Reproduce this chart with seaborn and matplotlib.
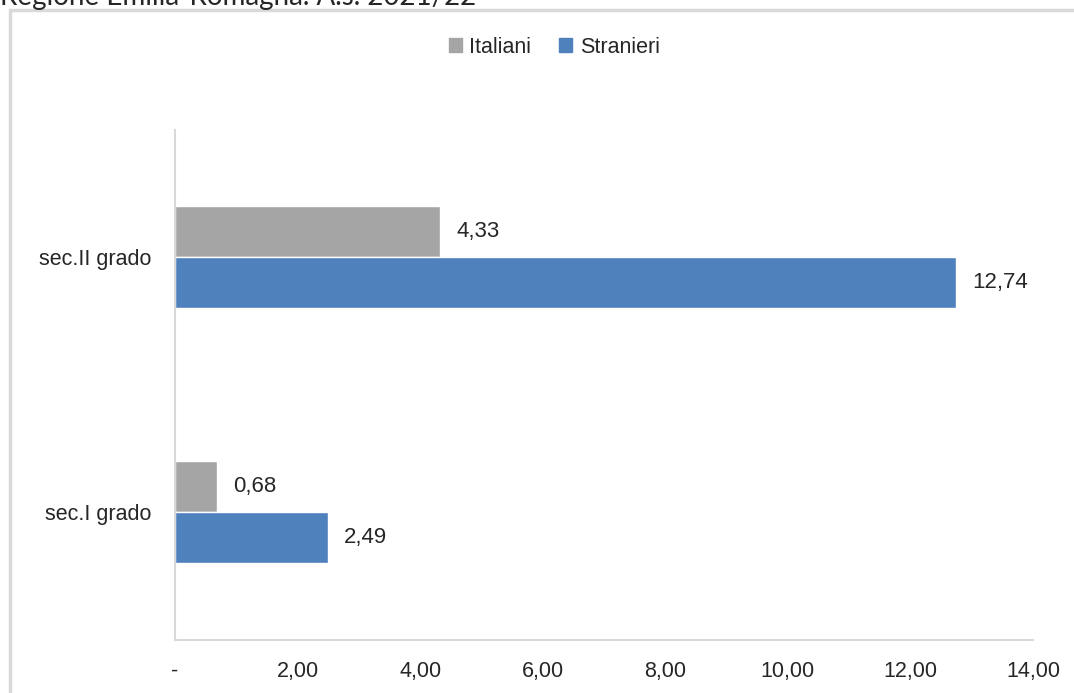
import pandas as pd
import matplotlib.pyplot as plt
import seaborn as sns
from matplotlib.patches import Rectangle

# Data
gradi = ["sec.II grado", "sec.I grado"]
italiani = [4.33, 0.68]
stranieri = [12.74, 2.49]
gruppi = ["Italiani", "Stranieri"]
xticks = [0, 2, 4, 6, 8, 10, 12, 14]
xtick_labels = ["-", "2,00", "4,00", "6,00", "8,00", "10,00", "12,00", "14,00"]
titolo = "Regione Emilia-Romagna. A.s. 2021/22"

df = pd.DataFrame({
    "grado": gradi * 2,
    "valore": italiani + stranieri,
    "gruppo": [gruppi[0]] * len(gradi) + [gruppi[1]] * len(gradi),
})

sns.set_style("white")
plt.rcParams["font.family"] = ["Liberation Sans", "DejaVu Sans"]
narrow = ["Liberation Sans Narrow", "Liberation Sans", "DejaVu Sans"]

fig = plt.figure(figsize=(10.74, 6.93), dpi=100)
ax = fig.add_axes([0.1629, 0.0765, 0.7989, 0.736])

sns.barplot(
    data=df, x="valore", y="grado", hue="gruppo", orient="h",
    order=gradi, hue_order=gruppi,
    palette={"Italiani": "#A5A5A5", "Stranieri": "#4F81BD"},
    width=0.4, saturation=1, ax=ax, legend=True,
)

# Data labels with comma decimals
for cont in ax.containers:
    ax.bar_label(cont, labels=[f"{v:.2f}".replace(".", ",") for v in cont.datavalues],
                 padding=12, fontsize=16, family=narrow, color="#262626")

ax.set_xlim(0, 14)
ax.set_ylim(1.5, -0.5)
ax.set_xticks(xticks)
ax.set_xticklabels(xtick_labels, family=narrow, fontsize=15.5, color="#262626")
ax.tick_params(axis="x", length=0, pad=15)
ax.tick_params(axis="y", length=0, pad=17, labelsize=15.5, labelcolor="#262626")
ax.set_xlabel("")
ax.set_ylabel("")

for s in ["top", "right"]:
    ax.spines[s].set_visible(False)
for s in ["left", "bottom"]:
    ax.spines[s].set_color("#D9D9D9")
    ax.spines[s].set_linewidth(1.5)

# Legend at top
ax.legend_.remove()
handles = [Rectangle((0, 0), 1, 1, color=c) for c in ["#A5A5A5", "#4F81BD"]]
fig.legend(handles, gruppi, loc="center", bbox_to_anchor=(0.516, 0.932), ncol=2,
           frameon=False, prop={"family": narrow, "size": 15.5},
           handlelength=0.6, handleheight=0.6, handletextpad=0.35, columnspacing=1.3)

# Chart frame and cropped title (cut off at the top edge as in the reference)
fig.patches.append(Rectangle((0.0093, -0.05), 1.2, 1.05 - 10 / 693, transform=fig.transFigure,
                             fill=False, edgecolor="#D9D9D9", linewidth=2.5))
fig.text(0.0, 1 - 5 / 693, titolo, fontsize=20, family=["Lato", "DejaVu Sans"],
         color="#262626", va="baseline", ha="left")

plt.savefig("out.png", dpi=100)
